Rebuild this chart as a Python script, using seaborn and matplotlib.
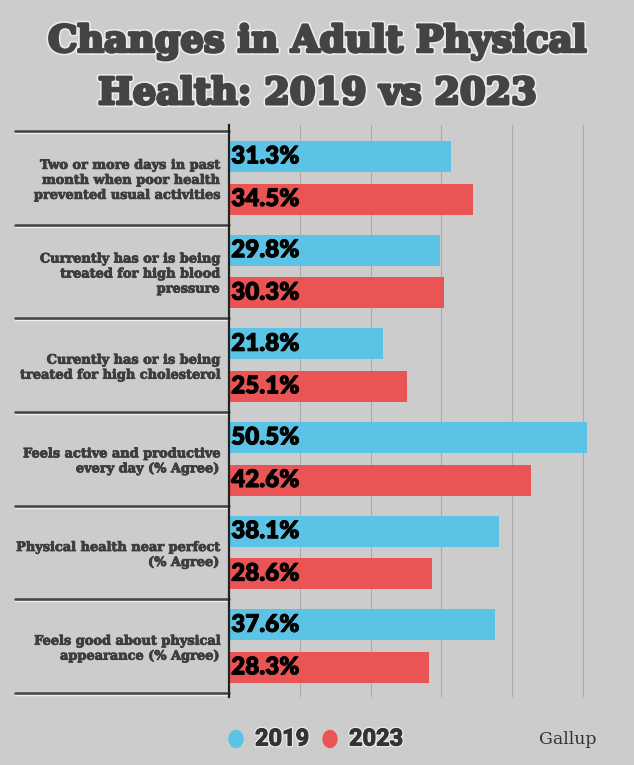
import matplotlib
matplotlib.use("Agg")
import matplotlib.pyplot as plt
import matplotlib.patheffects as pe
import matplotlib.transforms as mtransforms
from matplotlib.patches import Ellipse
import seaborn as sns
import pandas as pd

categories = [
    "Two or more days in past\nmonth when poor health\nprevented usual activities",
    "Currently has or is being\ntreated for high blood\npressure",
    "Curently has or is being\ntreated for high cholesterol",
    "Feels active and productive\nevery day (% Agree)",
    "Physical health near perfect\n(% Agree)",
    "Feels good about physical\nappearance (% Agree)",
]
values_2019 = [31.3, 29.8, 21.8, 50.5, 38.1, 37.6]
values_2023 = [34.5, 30.3, 25.1, 42.6, 28.6, 28.3]
years = ["2019", "2023"]
grid_ticks = [10, 20, 30, 40, 50]

BG = "#cbcccb"
BLUE = "#5bc4e6"
RED = "#ea5455"
DARK = "#3d3d3d"

df = pd.DataFrame({
    "category": categories * 2,
    "value": values_2019 + values_2023,
    "year": [years[0]] * len(categories) + [years[1]] * len(categories),
})

sns.set_theme(style="white")
plt.rcParams["font.family"] = ["DejaVu Sans"]

fig = plt.figure(figsize=(6.34, 7.65), dpi=100, facecolor=BG)
ax = fig.add_axes([229 / 634, 1 - 697 / 765, (634 - 229) / 634, (697 - 125) / 765])
ax.set_facecolor(BG)

sns.barplot(data=df, x="value", y="category", hue="year", order=categories,
            hue_order=years, palette=[BLUE, RED], orient="h", width=0.908,
            gap=0.27, ax=ax, legend=False, saturation=1, zorder=3,
            linewidth=0, edgecolor="none")

ax.set_xlim(0, 57.2)
ax.set_ylim(5.543, -0.564)
ax.set_xlabel("")
ax.set_ylabel("")
ax.set_xticks([])
for g in grid_ticks:
    ax.axvline(g, color="#aaaaaa", lw=0.8, zorder=1)

for s in ["top", "right", "bottom"]:
    ax.spines[s].set_visible(False)
ax.spines["left"].set_color("#222222")
ax.spines["left"].set_linewidth(1.6)
ax.spines["left"].set_zorder(5)

ax.tick_params(axis="y", length=0, pad=7)
lbl_fx = [pe.Stroke(linewidth=0.6, foreground=DARK), pe.Normal()]
for lbl in ax.get_yticklabels():
    lbl.set_fontfamily("DejaVu Serif")
    lbl.set_fontweight("bold")
    lbl.set_fontsize(9.3)
    lbl.set_color(DARK)
    lbl.set_linespacing(1.2)
    lbl.set_path_effects(lbl_fx)

# separators on the left
trans = mtransforms.blended_transform_factory(ax.transAxes, ax.transData)
for i in range(len(categories) + 1):
    y = i - 0.5
    ax.plot([-0.528, 0], [y + 0.022, y + 0.022], color="#eeeeee", lw=1.0,
            transform=trans, clip_on=False, zorder=4)
    ax.plot([-0.528, 0], [y, y], color="#444444", lw=1.8,
            transform=trans, clip_on=False, zorder=4)

# value labels
val_fx = [pe.Stroke(linewidth=0.6, foreground="black"), pe.Normal()]
for container in ax.containers:
    for bar in container:
        w = bar.get_width()
        ax.text(0.3, bar.get_y() + bar.get_height() / 2, f"{w:.1f}%",
                ha="left", va="center", fontsize=17.5, fontweight="heavy",
                fontfamily="Lato", color="black", zorder=6, path_effects=val_fx)

# title
title_fx = [pe.Stroke(linewidth=4.5, foreground="#ececec"),
            pe.Stroke(linewidth=2.2, foreground="#444444"), pe.Normal()]
fig.text(0.5, 1 - 42 / 765, "Changes in Adult Physical", ha="center", va="center",
         fontsize=26.5, fontweight="bold", fontfamily="DejaVu Serif",
         color="#444444", path_effects=title_fx)
fig.text(0.5, 1 - 94 / 765, "Health: 2019 vs 2023", ha="center", va="center",
         fontsize=26.5, fontweight="bold", fontfamily="DejaVu Serif",
         color="#444444", path_effects=title_fx)

# legend
leg_fx = [pe.Stroke(linewidth=2.5, foreground="#ececec"),
          pe.Stroke(linewidth=0.8, foreground="#333333"), pe.Normal()]
ly = 1 - 739 / 765
for cx, tx, col, yr in [(236, 255, BLUE, years[0]), (330, 349, RED, years[1])]:
    fig.patches.append(Ellipse((cx / 634, ly), 14 / 634, 17 / 765, color=col,
                               transform=fig.transFigure))
    fig.text(tx / 634, ly, yr, ha="left", va="center", fontsize=17,
             fontweight="bold", fontfamily="Roboto", color="#333333",
             path_effects=leg_fx)

fig.text(597 / 634, ly, "Gallup", ha="right", va="center", fontsize=12.5,
         fontfamily="DejaVu Serif", color="#333333")

fig.savefig("out.png", dpi=100, facecolor=BG)
